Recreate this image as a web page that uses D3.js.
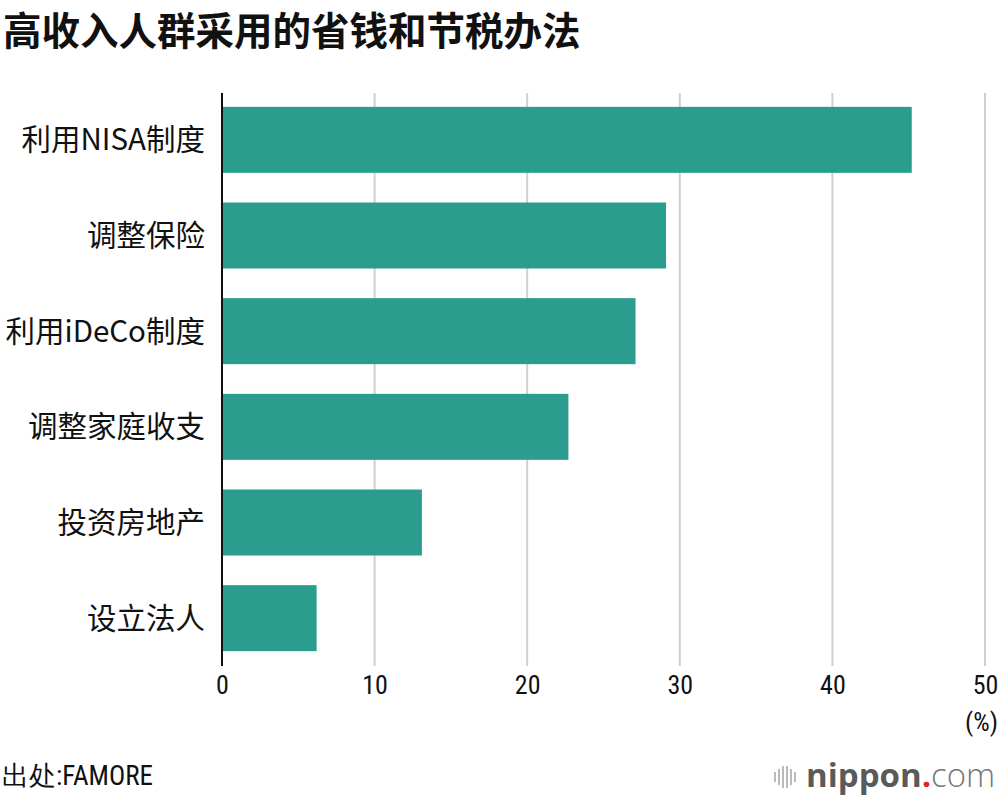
<!DOCTYPE html>
<html><head><meta charset="utf-8">
<script src="https://cdn.jsdelivr.net/npm/d3@7"></script>
<style>
body{margin:0;background:#fff;}
svg{display:block;}
</style></head>
<body>
<svg id="chart" width="1000" height="796"></svg>
<script>
const categories = ["利用NISA制度","调整保险","利用iDeCo制度","调整家庭收支","投资房地产","设立法人"];
const values = [45.2, 29.1, 27.1, 22.7, 13.1, 6.2];
const xTicks = [0, 10, 20, 30, 40, 50];
const title = "高收入人群采用的省钱和节税办法";
const source = "出处:FAMORE";
const unit = "(%)";

const svg = d3.select("#chart");
const cjk = "'Noto Sans CJK SC','Noto Sans',sans-serif";
const narrow = "'Liberation Sans Narrow','Roboto Condensed','Roboto',sans-serif";

const x = d3.scaleLinear().domain([0, 50]).range([222, 985]);
const y = d3.scaleBand().domain(categories).range([92, 666]).paddingInner(0.31).paddingOuter(0.155);

svg.append("text").attr("x", 3).attr("y", 45).text(title)
  .attr("font-family", cjk).attr("font-weight", 700).attr("font-size", 38.5).attr("fill", "#111");

// gridlines
svg.append("g").selectAll("line").data(xTicks.filter(d => d > 0)).join("line")
  .attr("x1", d => x(d)).attr("x2", d => x(d))
  .attr("y1", 93).attr("y2", 666)
  .attr("stroke", "#cfcfcf").attr("stroke-width", 2);

// bars
svg.append("g").selectAll("rect").data(categories).join("rect")
  .attr("x", x(0)).attr("y", d => y(d))
  .attr("width", (d, i) => x(values[i]) - x(0))
  .attr("height", y.bandwidth())
  .attr("fill", "#2a9d8f");

// y axis line
svg.append("line").attr("x1", 222).attr("x2", 222).attr("y1", 93).attr("y2", 666)
  .attr("stroke", "#111").attr("stroke-width", 2);

// category labels
svg.append("g").selectAll("text").data(categories).join("text")
  .attr("x", 205).attr("y", d => y(d) + y.bandwidth() / 2)
  .attr("dy", "0.36em").attr("text-anchor", "end")
  .attr("font-family", cjk).attr("font-size", 29.5).attr("fill", "#111")
  .text(d => d);

// x axis tick labels
const xAxis = d3.axisBottom(x).tickValues(xTicks).tickSize(0).tickPadding(0).tickFormat(d3.format("d"));
const gx = svg.append("g").attr("transform", "translate(0,676)").call(xAxis);
gx.select(".domain").remove();
gx.selectAll("text").attr("font-family", narrow).attr("font-size", 26).attr("fill", "#111")
  .attr("dy", "0.71em");

svg.append("text").attr("x", 998).attr("y", 731).attr("text-anchor", "end").text(unit)
  .attr("font-family", narrow).attr("font-size", 26).attr("fill", "#111");

svg.append("text").attr("x", 2).attr("y", 785).text(source)
  .attr("font-family", narrow).attr("font-size", 27).attr("fill", "#111");

// logo
const logo = svg.append("g");
const barsX = [774, 778, 782, 786, 790, 794];
const barsH = [10, 16, 22, 22, 16, 10];
logo.selectAll("rect").data(barsX).join("rect")
  .attr("x", d => d).attr("width", 2)
  .attr("y", (d, i) => 777 - barsH[i] / 2).attr("height", (d, i) => barsH[i])
  .attr("fill", "#bbb");
const lt = logo.append("text").attr("x", 806).attr("y", 787)
  .attr("font-family", "'Open Sans','Noto Sans',sans-serif").attr("font-size", 33);
lt.append("tspan").text("nippon").attr("font-weight", 700).attr("fill", "#5a5a5a");
lt.append("tspan").text(".").attr("font-weight", 700).attr("fill", "#e8202a");
lt.append("tspan").text("com").attr("font-weight", 300).attr("fill", "#777");
</script>
</body></html>
